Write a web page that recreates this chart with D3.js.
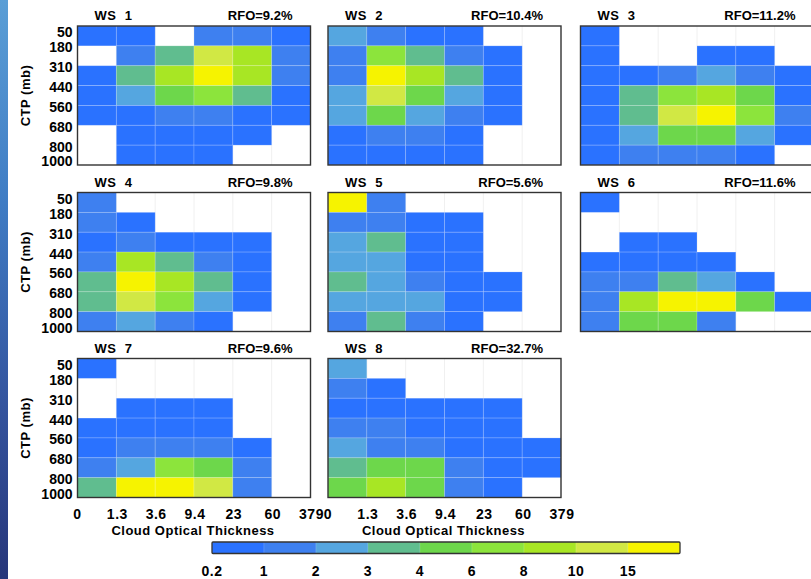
<!DOCTYPE html>
<html>
<head>
<meta charset="utf-8">
<script src="https://cdn.jsdelivr.net/npm/d3@7"></script>
<style>
  html, body { margin: 0; padding: 0; background: #ffffff; }
  svg { display: block; }
  text { font-family: "Liberation Sans", Arial, sans-serif; font-weight: bold; fill: #000; }
</style>
</head>
<body>
<svg id="chart" width="811" height="579"></svg>
<script>
// Axis tick labels
const xTicks = ["0", "1.3", "3.6", "9.4", "23", "60", "379"];
const yTicks = ["50", "180", "310", "440", "560", "680", "800", "1000"];

// Weather states and their relative frequency of occurrence (%)
const stateNames = ["WS 1", "WS 2", "WS 3", "WS 4", "WS 5", "WS 6", "WS 7", "WS 8"];
const stateRFO = ["9.2", "10.4", "11.2", "9.8", "5.6", "11.6", "9.6", "32.7"];

// Colour classes (frequency %, lower bound of each class)
const colorBreaks = [0.2, 1, 2, 3, 4, 6, 8, 10, 15];
const colorLabels = ["0.2", "1", "2", "3", "4", "6", "8", "10", "15"];
const colorFills = ["#2a72ff", "#3e80f0", "#55a6e0", "#60bd8f", "#6dd74b", "#8ce43c", "#a8e624", "#d1e844", "#f6f300"];

// Joint CTP x TAU histograms, rows top (50 mb) to bottom (1000 mb), columns 0..379
const ws1 = [
  [0.6, 0.5, null, 1.2, 1.1, 0.7],
  [null, 1.4, 3.3, 11.0, 8.6, 1.3],
  [0.8, 3.5, 9.2, 16.4, 8.8, 1.2],
  [0.9, 2.4, 5.1, 7.0, 3.6, 0.9],
  [0.7, 0.8, 1.3, 1.2, 0.8, 0.6],
  [null, 0.6, 0.5, 0.6, 0.4, null],
  [null, 0.5, 0.4, 0.4, null, null]
];
const ws2 = [
  [2.2, 1.3, 0.7, 0.5, null, null],
  [1.1, 7.2, 3.4, 1.5, 0.6, null],
  [1.3, 15.8, 9.1, 3.6, 0.8, null],
  [2.3, 11.2, 5.4, 2.6, 0.7, null],
  [2.5, 4.8, 2.7, 1.4, 0.5, null],
  [0.9, 1.2, 1.1, 0.7, null, null],
  [0.8, 0.9, 0.6, 0.5, null, null]
];
const ws3 = [
  [0.4, null, null, null, null, null],
  [0.5, null, null, 0.4, 0.5, null],
  [0.7, 0.9, 1.6, 2.2, 1.4, 0.6],
  [0.8, 3.4, 6.8, 8.7, 4.6, 0.9],
  [0.9, 3.6, 11.4, 16.2, 6.5, 1.2],
  [0.7, 2.3, 5.2, 4.8, 2.4, 0.8],
  [0.6, 1.2, 1.4, 1.3, 0.7, null]
];
const ws4 = [
  [1.1, null, null, null, null, null],
  [1.2, 0.6, null, null, null, null],
  [0.8, 1.4, 0.9, 0.7, 0.6, null],
  [1.3, 8.9, 3.4, 1.6, 0.8, null],
  [3.5, 16.8, 9.0, 3.3, 0.7, null],
  [3.7, 11.6, 7.1, 2.4, 0.5, null],
  [1.5, 2.6, 1.3, 0.9, null, null]
];
const ws5 = [
  [17.5, 1.6, null, null, null, null],
  [1.4, 1.5, 0.8, 0.6, null, null],
  [2.4, 3.3, 0.7, 0.5, null, null],
  [2.6, 2.8, 0.6, 0.5, null, null],
  [3.4, 2.5, 1.2, 0.6, 0.4, null],
  [2.2, 2.7, 2.3, 0.7, 0.4, null],
  [1.3, 3.2, 1.1, 0.6, null, null]
];
const ws6 = [
  [0.5, null, null, null, null, null],
  [null, null, null, null, null, null],
  [null, 0.6, 0.7, null, null, null],
  [0.8, 0.9, 0.8, 0.6, null, null],
  [1.2, 1.4, 3.5, 2.3, 0.7, null],
  [1.3, 9.3, 16.5, 15.6, 4.9, 0.6],
  [1.2, 5.4, 4.8, 1.1, null, null]
];
const ws7 = [
  [0.5, null, null, null, null, null],
  [null, null, null, null, null, null],
  [null, 0.6, 0.5, 0.6, null, null],
  [0.7, 0.8, 0.7, 0.6, null, null],
  [0.9, 1.3, 1.2, 1.1, 0.6, null],
  [1.4, 2.4, 7.2, 5.3, 1.2, null],
  [3.6, 18.2, 17.4, 11.5, 1.3, null]
];
const ws8 = [
  [2.1, null, null, null, null, null],
  [1.3, 0.7, null, null, null, null],
  [0.9, 0.8, 0.6, 0.6, 0.5, null],
  [1.2, 1.1, 0.8, 0.7, 0.5, null],
  [2.2, 1.4, 1.2, 0.9, 0.6, 0.4],
  [3.3, 4.9, 5.1, 1.3, 0.7, 0.5],
  [5.2, 8.4, 4.7, 1.2, 0.6, null]
];
const histograms = [ws1, ws2, ws3, ws4, ws5, ws6, ws7, ws8];

const svg = d3.select("#chart");

// Slide background strip along the left edge
const defs = svg.append("defs");
const grad = defs.append("linearGradient").attr("id", "edge").attr("x1", 0).attr("y1", 0).attr("x2", 0).attr("y2", 1);
[["0%", "#5a9ed6"], ["35%", "#3f7cc4"], ["70%", "#34549e"], ["100%", "#27367a"]].forEach(s =>
  grad.append("stop").attr("offset", s[0]).attr("stop-color", s[1]));
svg.append("rect").attr("x", 0).attr("y", 0).attr("width", 8).attr("height", 579).attr("fill", "url(#edge)");

const color = d3.scaleThreshold().domain(colorBreaks).range(["#ffffff"].concat(colorFills));

const panelW = 233, panelH = 139;
const colLeft = [77.5, 328, 580.5];
const rowTop = [26, 192.5, 358.5];

histograms.forEach((grid, k) => {
  const c = k % 3, r = Math.floor(k / 3);
  const x0 = colLeft[c], y0 = rowTop[r];
  const x = d3.scaleLinear().domain([0, xTicks.length - 1]).range([x0, x0 + panelW]);
  const y = d3.scaleLinear().domain([0, yTicks.length - 1]).range([y0, y0 + panelH]);
  const g = svg.append("g");

  // faint grid at bin edges
  g.selectAll("line.gx").data(d3.range(1, xTicks.length - 1)).join("line")
    .attr("x1", d => x(d)).attr("x2", d => x(d)).attr("y1", y0).attr("y2", y0 + panelH)
    .attr("stroke", "#ececec").attr("stroke-width", 0.8);

  const cells = [];
  grid.forEach((row, i) => row.forEach((v, j) => { if (v !== null) cells.push({ i, j, v }); }));
  g.selectAll("rect.cell").data(cells).join("rect")
    .attr("x", d => x(d.j)).attr("y", d => y(d.i))
    .attr("width", d => x(d.j + 1) - x(d.j)).attr("height", d => y(d.i + 1) - y(d.i))
    .attr("fill", d => color(d.v))
    .attr("stroke", "rgba(255,255,255,0.22)").attr("stroke-width", 0.8);

  // frame
  g.append("rect").attr("x", x0).attr("y", y0).attr("width", panelW).attr("height", panelH)
    .attr("fill", "none").attr("stroke", "#333").attr("stroke-width", 1.4);

  // titles
  g.append("text").attr("x", x0 + 17).attr("y", y0 - 6).attr("font-size", 13)
    .style("letter-spacing", "0.5px").text(stateNames[k].replace(" ", "\u00a0\u00a0"));
  g.append("text").attr("x", x0 + 215).attr("y", y0 - 6).attr("font-size", 13)
    .attr("text-anchor", "end").text("RFO=" + stateRFO[k] + "%");

  // y axis labels on the left column
  if (c === 0) {
    g.selectAll("text.yl").data(yTicks).join("text")
      .attr("x", x0 - 5)
      .attr("y", (d, i) => i === 0 ? y(i) + 6 : (i === yTicks.length - 1 ? y(i) - 4 : y(i) + 1.5))
      .attr("text-anchor", "end").attr("dominant-baseline", "central").attr("font-size", 14)
      .text(d => d);
    g.append("text")
      .attr("transform", `translate(${x0 - 52},${y0 + panelH / 2}) rotate(-90)`)
      .attr("text-anchor", "middle").attr("dominant-baseline", "central").attr("font-size", 13)
      .style("letter-spacing", "0.5px").text("CTP (mb)");
  }

  // x axis labels on the bottom panels
  if (k >= 6) {
    g.selectAll("text.xl").data(xTicks).join("text")
      .attr("x", (d, i) => x(i) + (i === 0 ? 0 : 1))
      .attr("y", y0 + panelH + 16)
      .attr("text-anchor", "middle").attr("dominant-baseline", "central").attr("font-size", 14)
      .style("letter-spacing", "0.5px").text(d => d);
    g.append("text").attr("x", x0 + panelW / 2 - 1).attr("y", y0 + panelH + 33)
      .attr("text-anchor", "middle").attr("dominant-baseline", "central").attr("font-size", 13)
      .style("letter-spacing", "0.5px").text("Cloud Optical Thickness");
  }
});

// Colour bar
const cbX0 = 212, cbX1 = 680, cbY = 542, cbH = 11.5;
const cb = d3.scaleLinear().domain([0, colorFills.length]).range([cbX0, cbX1]);
svg.append("g").selectAll("rect").data(colorFills).join("rect")
  .attr("x", (d, i) => cb(i)).attr("y", cbY)
  .attr("width", (d, i) => cb(i + 1) - cb(i)).attr("height", cbH)
  .attr("fill", d => d).attr("stroke", "rgba(255,255,255,0.2)").attr("stroke-width", 0.6);
svg.append("rect").attr("x", cbX0).attr("y", cbY).attr("width", cbX1 - cbX0).attr("height", cbH)
  .attr("fill", "none").attr("stroke", "#333").attr("stroke-width", 1.3).attr("rx", 1);
svg.append("g").selectAll("text").data(colorLabels).join("text")
  .attr("x", (d, i) => cb(i)).attr("y", 571)
  .attr("text-anchor", "middle").attr("dominant-baseline", "central").attr("font-size", 14)
  .style("letter-spacing", "0.5px").text(d => d);
</script>
</body>
</html>
